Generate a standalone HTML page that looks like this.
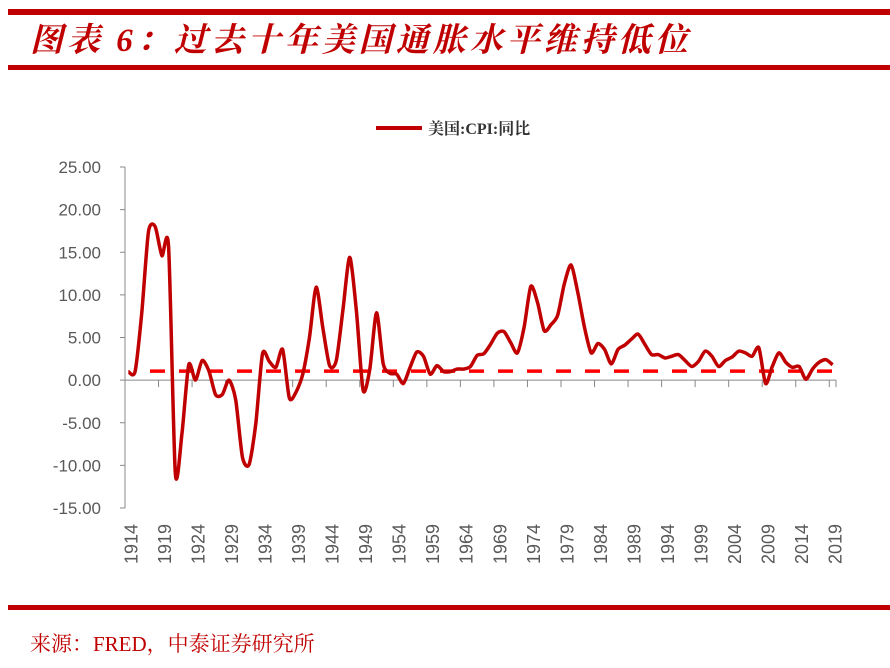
<!DOCTYPE html>
<html><head><meta charset="utf-8"><style>
body{margin:0;background:#fff;width:890px;height:668px;overflow:hidden;position:relative;font-family:"Liberation Sans","Noto Sans CJK SC",sans-serif}
.bar{position:absolute;left:8px;right:0;background:#c00000}
</style></head><body>
<div class="bar" style="top:9px;height:6px"></div>
<div style="position:absolute;left:30px;top:14px;font-size:33px;font-style:italic;font-weight:bold;color:#c00000;font-family:'Liberation Serif','Noto Serif CJK SC',serif;letter-spacing:4px">图表 6：过去十年美国通胀水平维持低位</div>
<div class="bar" style="top:65px;height:5px"></div>
<div class="bar" style="top:605px;height:5px"></div>
<div style="position:absolute;left:30px;top:628px;font-size:21px;color:#c00000;font-family:'Liberation Serif','Noto Serif CJK SC',serif">来源：FRED，中泰证券研究所</div>
<svg id="chart" width="890" height="668" style="position:absolute;left:0;top:0"></svg>
<script>
const years=[];for(let y=1914;y<=2019;y++)years.push(y);
const cpiYoY=[1.0,1.0,7.9,17.4,18.0,14.6,15.6,-10.9,-6.2,1.8,0.0,2.3,1.1,-1.7,-1.7,0.0,-2.3,-9.0,-9.9,-5.1,3.1,2.2,1.5,3.6,-2.1,-1.4,0.7,5.0,10.9,6.1,1.7,2.3,8.3,14.4,8.1,-1.2,1.3,7.9,1.9,0.8,0.7,-0.4,1.5,3.3,2.8,0.7,1.7,1.0,1.0,1.3,1.3,1.6,2.9,3.1,4.2,5.5,5.7,4.4,3.2,6.2,11.0,9.1,5.8,6.5,7.6,11.3,13.5,10.3,6.2,3.2,4.3,3.6,1.9,3.6,4.1,4.8,5.4,4.2,3.0,3.0,2.6,2.8,3.0,2.3,1.6,2.2,3.4,2.8,1.6,2.3,2.7,3.4,3.2,2.8,3.8,-0.4,1.6,3.2,2.1,1.5,1.6,0.1,1.3,2.1,2.4,1.8];
const yTicks=[25,20,15,10,5,0,-5,-10,-15];
const refLevel=[1.06];
const svg=document.getElementById('chart');const NS='http://www.w3.org/2000/svg';
const X0=125,X1=836,Y0=167,Y1=508,ymax=25,ymin=-15;
const bw=(X1-X0)/years.length;
const xs=i=>X0+bw*(i+0.5);
const ys=v=>Y0+(ymax-v)/(ymax-ymin)*(Y1-Y0);
function mk(t,a){const e=document.createElementNS(NS,t);for(const k in a)e.setAttribute(k,a[k]);svg.appendChild(e);return e;}
let ax=mk('line',{x1:X0,y1:Y0,x2:X0,y2:Y1,stroke:'#888','stroke-width':1});


yTicks.forEach(v=>{
 const t=mk('line',{x1:X0-5,x2:X0,y1:ys(v),y2:ys(v),stroke:'#888'});
 
 
 const l=mk('text',{x:X0-24,y:ys(v)+6,'text-anchor':'end','font-size':17,fill:'#595959'});
 l.textContent=v.toFixed(2);
 
 
});
let xa=mk('line',{x1:X0,y1:ys(0),x2:X1,y2:ys(0),stroke:'#888','stroke-width':1});


years.forEach((yr,i)=>{
 if(i%5===0&&i>0){const t=mk('line',{x1:X0+bw*i,x2:X0+bw*i,y1:ys(0),y2:ys(0)+7,stroke:'#888'});
 
 }
 if(i%5===0){const x=xs(i)+2;const l=mk('text',{x:0,y:0,transform:`translate(${x+7},524) rotate(-90)`,'text-anchor':'end','font-size':18,fill:'#595959'});
 l.textContent=yr;
 
 }
});
const et=mk('line',{x1:X1,x2:X1,y1:ys(0),y2:ys(0)+7,stroke:'#888'});


const rl=mk('line',{x1:150,x2:X1,y1:ys(refLevel[0]),y2:ys(refLevel[0]),stroke:'#ff0000','stroke-width':3.5,'stroke-dasharray':'15 14'});


const P=cpiYoY.map((v,i)=>[xs(i),ys(v)]);
let d=`M${P[0][0]},${P[0][1]}`;
for(let i=0;i<P.length-1;i++){const p0=P[Math.max(0,i-1)],p1=P[i],p2=P[i+1],p3=P[Math.min(P.length-1,i+2)];const k=1/8;
 d+=` C${p1[0]+(p2[0]-p0[0])*k},${p1[1]+(p2[1]-p0[1])*k} ${p2[0]-(p3[0]-p1[0])*k},${p2[1]-(p3[1]-p1[1])*k} ${p2[0]},${p2[1]}`;}
const ln=mk('path',{d:d,fill:'none',stroke:'#c00000','stroke-width':3.5,'stroke-linejoin':'round'});


const lg=mk('line',{x1:376,x2:422,y1:128,y2:128,stroke:'#c00000','stroke-width':4});


const lt=mk('text',{x:428,y:134,'font-size':16,fill:'#333','font-family':"'Liberation Serif','Noto Serif CJK SC',serif",'font-weight':'bold'});
lt.textContent='美国:CPI:同比';


</script>
</body></html>
